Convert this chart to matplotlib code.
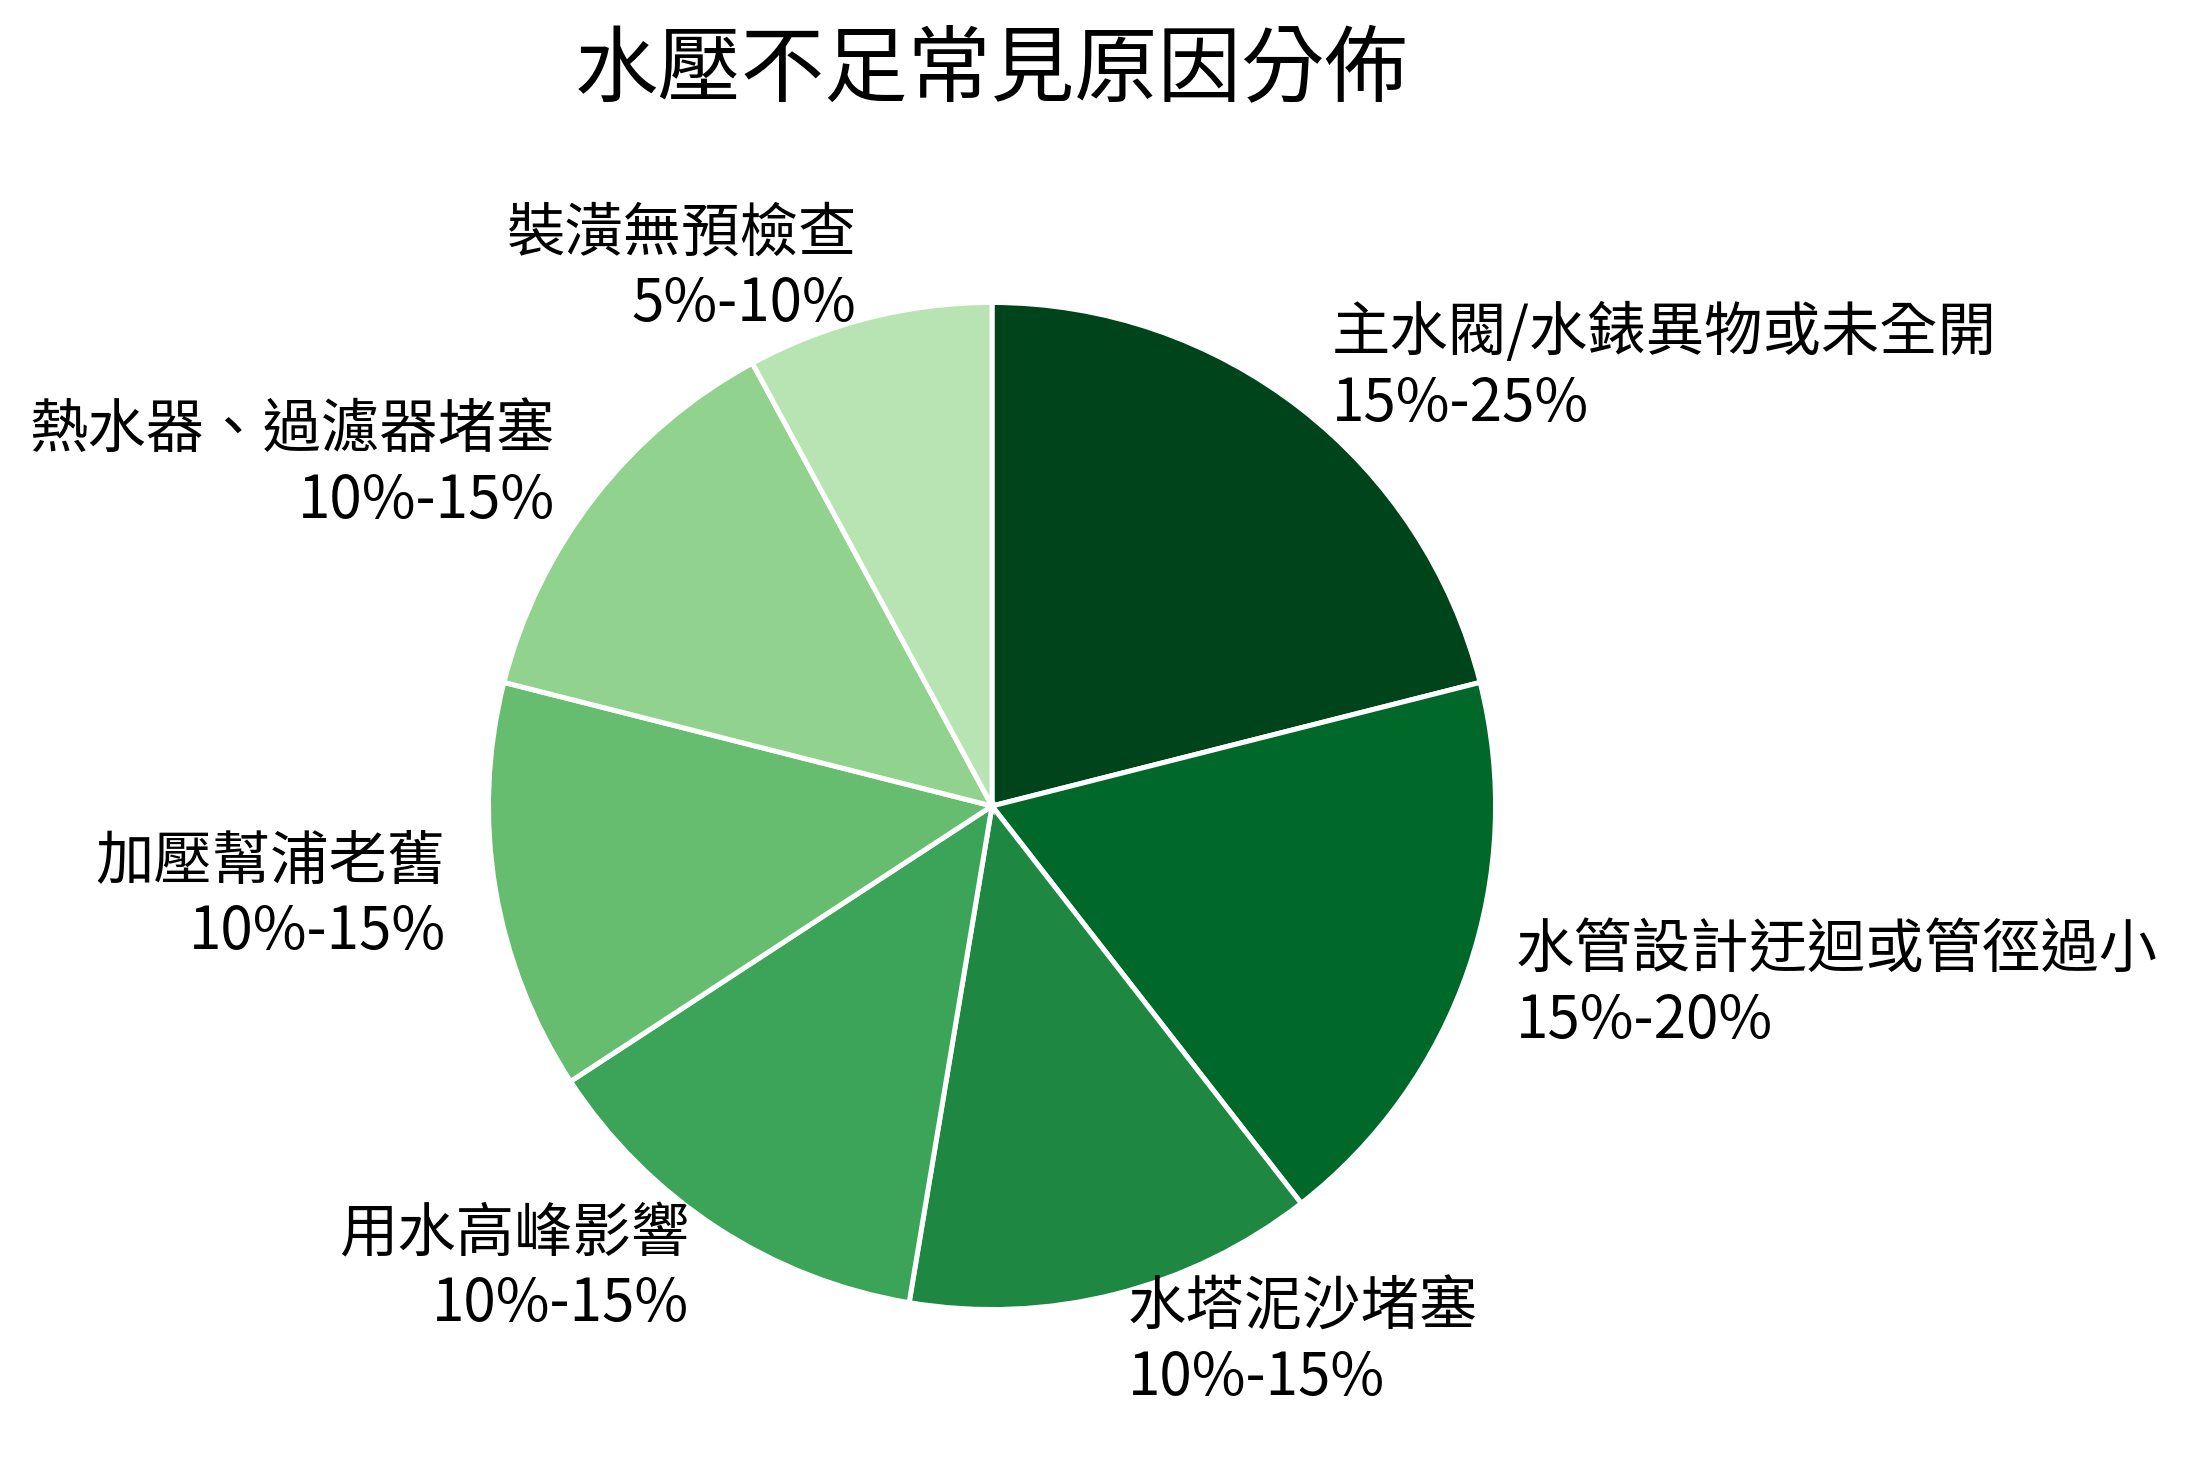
import numpy as np
import matplotlib.pyplot as plt

plt.rcParams['font.family'] = ['Noto Sans CJK TC', 'DejaVu Sans']

causes = ['主水閥/水錶異物或未全開', '水管設計迂迴或管徑過小', '水塔泥沙堵塞',
          '用水高峰影響', '加壓幫浦老舊', '熱水器、過濾器堵塞', '裝潢無預檢查']
ranges = ['15%-25%', '15%-20%', '10%-15%', '10%-15%', '10%-15%', '10%-15%', '5%-10%']
# midpoint of each range
shares = [20, 17.5, 12.5, 12.5, 12.5, 12.5, 7.5]

labels = [f'{c}\n{r}' for c, r in zip(causes, ranges)]
colors = plt.cm.Greens(np.linspace(1.0, 0.3, len(shares)))

fig = plt.figure(figsize=(2187 / 300, 1468 / 300), dpi=300)
ax = fig.add_axes([0.1658, 0.0222, 0.5756, 0.8575])

ax.pie(shares, labels=labels, colors=colors, startangle=90, counterclock=False,
       wedgeprops={'edgecolor': 'white', 'linewidth': 1.2},
       textprops={'fontsize': 14, 'color': 'black'})
ax.set_aspect('equal')

fig.text(0.4536, 0.9516, '水壓不足常見原因分佈', fontsize=20, ha='center', va='center')

plt.savefig('out.png', dpi=300)
plt.close()
